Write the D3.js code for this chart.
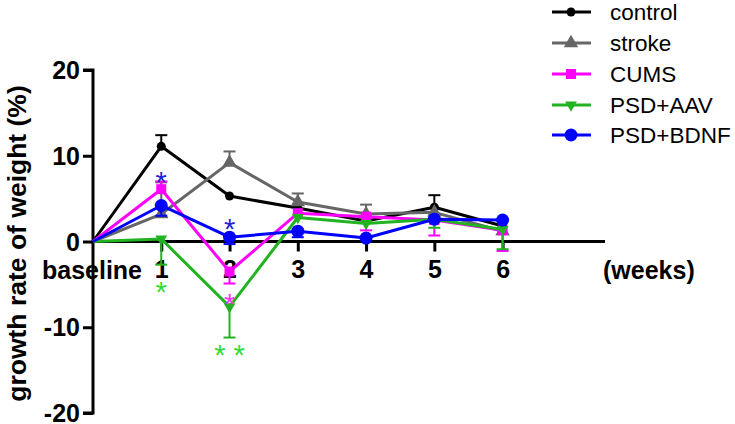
<!DOCTYPE html>
<html><head><meta charset="utf-8">
<script src="https://cdn.jsdelivr.net/npm/d3@7"></script>
<style>body{margin:0;background:#fff}svg{display:block}text{font-family:"Liberation Sans",Arial,sans-serif}</style>
</head><body>
<script>
const weeks = ["baseline","1","2","3","4","5","6"];
const yTicks = [-20,-10,0,10,20];
const seriesNames = ["control","stroke","CUMS","PSD+AAV","PSD+BDNF"];
const control = [0, 11.1, 5.3, 3.9, 2.4, 4.0, 1.8];
const stroke  = [0, 3.2, 9.2, 4.6, 3.2, 3.4, 1.2];
const cums    = [0, 6.1, -3.5, 3.3, 2.9, 2.5, 1.3];
const aav     = [0, 0.3, -7.6, 2.8, 2.1, 2.6, 1.4];
const bdnf    = [0, 4.2, 0.5, 1.2, 0.4, 2.6, 2.5];
// signed error bars (cap at value + err)
const controlErr = [0, 1.3, 0, 0, 0, 1.4, 0];
const strokeErr  = [0, 3.7, 1.3, 1.0, 1.1, 0, 0];
const cumsErr    = [0, 0.9, -1.4, 0, -1.6, -1.8, -2.4];
const aavErr     = [0, -3.0, -3.6, 0, 0, -1.0, -2.3];
const bdnfErr    = [0, -1.2, -0.8, -0.7, 0, 0, 0];
const colors = ["#000000","#666666","#ff00ff","#22b222","#0000ff"];
const symbols = ["circle","triangle","square","triangleDown","bigcircle"];
const annotations = [
  {x:1, y:7.8, text:"*", color:"#2222dd"},
  {x:2, y:2.3, text:"*", color:"#2222dd"},
  {x:1, y:-5.1, text:"*", color:"#33dd33"},
  {x:2, y:-6.5, text:"*", color:"#ff33ff"},
  {x:2, y:-12.4, text:"* *", color:"#33dd33"}
];
const values = [control, stroke, cums, aav, bdnf];
const errs = [controlErr, strokeErr, cumsErr, aavErr, bdnfErr];

const W=735,H=424;
const svg=d3.select("body").append("svg").attr("width",W).attr("height",H);
const x=d3.scaleLinear().domain([0,7.5]).range([93,605]);
const y=d3.scaleLinear().domain([-20,20]).range([413,70]);

// axes
const yAxis=svg.append("g").attr("transform",`translate(${x(0)},0)`)
  .call(d3.axisLeft(y).tickValues(yTicks).tickFormat(d=>String(d)).tickSize(10).tickPadding(3));
yAxis.select(".domain").attr("stroke","#000").attr("stroke-width",3).attr("d",`M-10,${y(20)}H0V${y(-20)}H-10`);
yAxis.selectAll(".tick line").attr("stroke","#000").attr("stroke-width",3);
yAxis.selectAll(".tick text").attr("font-size",25).attr("font-weight","bold").attr("fill","#000").attr("dy","0.34em");

const xAxis=svg.append("g").attr("transform",`translate(0,${y(0)})`)
  .call(d3.axisBottom(x).tickValues(d3.range(1,weeks.length)).tickFormat(i=>weeks[i]).tickSize(10).tickPadding(9));
xAxis.select(".domain").attr("stroke","#000").attr("stroke-width",3).attr("d",`M${x(0)},0H${x(7.5)}`);
xAxis.selectAll(".tick line").attr("stroke","#000").attr("stroke-width",3);
xAxis.selectAll(".tick text").attr("font-size",25).attr("font-weight","bold").attr("fill","#000");
svg.append("text").attr("x",x(0)-1).attr("y",y(0)+37).attr("text-anchor","middle")
  .attr("font-size",25).attr("font-weight","bold").text(weeks[0]);
svg.append("text").attr("x",603).attr("y",y(0)+37)
  .attr("font-size",25).attr("font-weight","bold").text("(weeks)");

svg.append("text").attr("transform",`translate(26,${(y(20)+y(-20))/2+2}) rotate(-90)`).attr("text-anchor","middle")
  .attr("font-size",26.5).attr("font-weight","bold").text("growth rate of weight (%)");

function marker(g,type,color,cx,cy){
  if(type==="circle") g.append("circle").attr("cx",cx).attr("cy",cy).attr("r",4.5).attr("fill",color);
  else if(type==="bigcircle") g.append("circle").attr("cx",cx).attr("cy",cy).attr("r",6.5).attr("fill",color);
  else if(type==="square") g.append("rect").attr("x",cx-5).attr("y",cy-5).attr("width",10).attr("height",10).attr("fill",color);
  else if(type==="triangle") g.append("path").attr("transform",`translate(${cx},${cy})`).attr("d",d3.symbol(d3.symbolTriangle,90)()).attr("fill",color);
  else if(type==="triangleDown") g.append("path").attr("transform",`translate(${cx},${cy}) rotate(180)`).attr("d",d3.symbol(d3.symbolTriangle,60)()).attr("fill",color);
}

const line=d3.line().x((d,i)=>x(i)).y(d=>y(d));
values.forEach((vals,si)=>{
  const g=svg.append("g");
  const c=colors[si];
  vals.forEach((v,i)=>{
    const e=errs[si][i];
    if(e!==0){
      g.append("line").attr("x1",x(i)).attr("x2",x(i)).attr("y1",y(v)).attr("y2",y(v+e)).attr("stroke",c).attr("stroke-width",2);
      g.append("line").attr("x1",x(i)-6).attr("x2",x(i)+6).attr("y1",y(v+e)).attr("y2",y(v+e)).attr("stroke",c).attr("stroke-width",2);
    }
  });
  g.append("path").datum(vals).attr("d",line).attr("fill","none").attr("stroke",c).attr("stroke-width",3).attr("stroke-linejoin","round");
  vals.forEach((v,i)=>{ if(i>0) marker(g,symbols[si],c,x(i),y(v)); });
});

annotations.forEach(a=>{
  svg.append("text").attr("x",x(a.x)).attr("y",y(a.y)+17).attr("text-anchor","middle")
    .attr("font-size",29).attr("fill",a.color).text(a.text);
});

// legend
const legY=[12,43,74,105,135];
seriesNames.forEach((n,i)=>{
  const g=svg.append("g");
  g.append("line").attr("x1",552).attr("x2",591).attr("y1",legY[i]).attr("y2",legY[i]).attr("stroke",colors[i]).attr("stroke-width",3);
  marker(g,symbols[i],colors[i],571,legY[i]);
  g.append("text").attr("x",610).attr("y",legY[i]).attr("dy","0.35em").attr("font-size",22.5).text(n);
});
</script>
</body></html>
